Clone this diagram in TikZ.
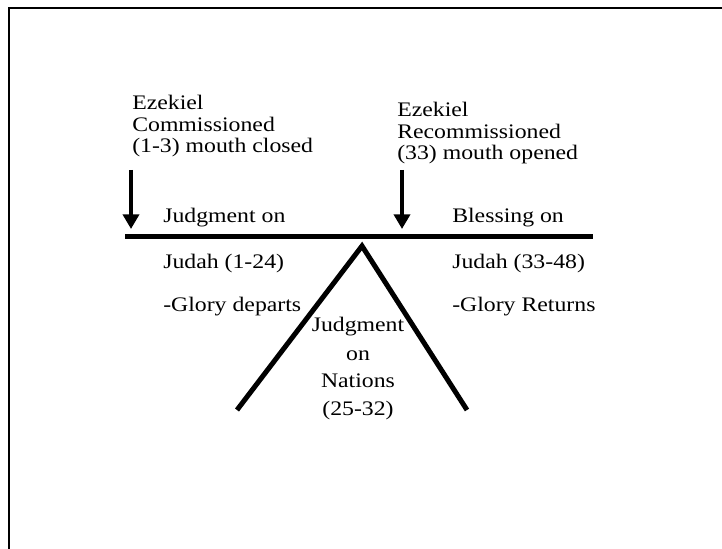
\documentclass[tikz,border=0pt]{standalone}
\usepackage{fontspec}
\setmainfont{Liberation Serif}[FakeStretch=1.15]
\usetikzlibrary{arrows.meta}

\begin{document}
\begin{tikzpicture}[x=0.75pt, y=-0.75pt,
    beam/.style={line width=3.75pt},
    pointer/.style={line width=3.5pt, -{Triangle[length=11pt, width=12pt]}},
    notetext/.style={inner sep=0pt, align=left, font=\fontsize{15.5}{16.25}\selectfont},
    centertext/.style={inner sep=0pt, align=center, font=\fontsize{15.5}{21}\selectfont}]

    \useasboundingbox (0,0) rectangle (722,549);
    \draw[line width=1.5pt] (9,549) -- (9,8) -- (722,8);

    \coordinate (beamL) at (125,237);
    \coordinate (beamR) at (593,237);
    \coordinate (apex) at (362,246);
    \coordinate (footL) at (237,410);
    \coordinate (footR) at (467,410);

    \draw[beam] (beamL) -- (beamR);
    \draw[beam, line join=miter] (footL) -- (apex) -- (footR);

    \node[notetext, anchor=base west] (closed) at (132,153)
        {Ezekiel\\Commissioned\\(1-3) mouth closed};
    \node[notetext, anchor=base west] (opened) at (397,160)
        {Ezekiel\\Recommissioned\\(33) mouth opened};

    \coordinate (closedTop) at (131,170);
    \coordinate (closedTip) at (131,229);
    \coordinate (openedTop) at (402,170);
    \coordinate (openedTip) at (402,229);
    \draw[pointer] (closedTop) -- (closedTip);
    \draw[pointer] (openedTop) -- (openedTip);

    \node[notetext, anchor=base west] (judgeOn) at (163,223) {Judgment on};
    \node[notetext, anchor=base west] (judah1) at (163,269) {Judah (1-24)};
    \node[notetext, anchor=base west] (departs) at (163,311) {-Glory departs};

    \node[notetext, anchor=base west] (blessOn) at (452,223) {Blessing on};
    \node[notetext, anchor=base west] (judah2) at (452,269) {Judah (33-48)};
    \node[notetext, anchor=base west] (returns) at (452,311) {-Glory Returns};

    \node[centertext, anchor=base] (nations) at (358,416)
        {Judgment\\on\\Nations\\(25-32)};
\end{tikzpicture}
\end{document}
